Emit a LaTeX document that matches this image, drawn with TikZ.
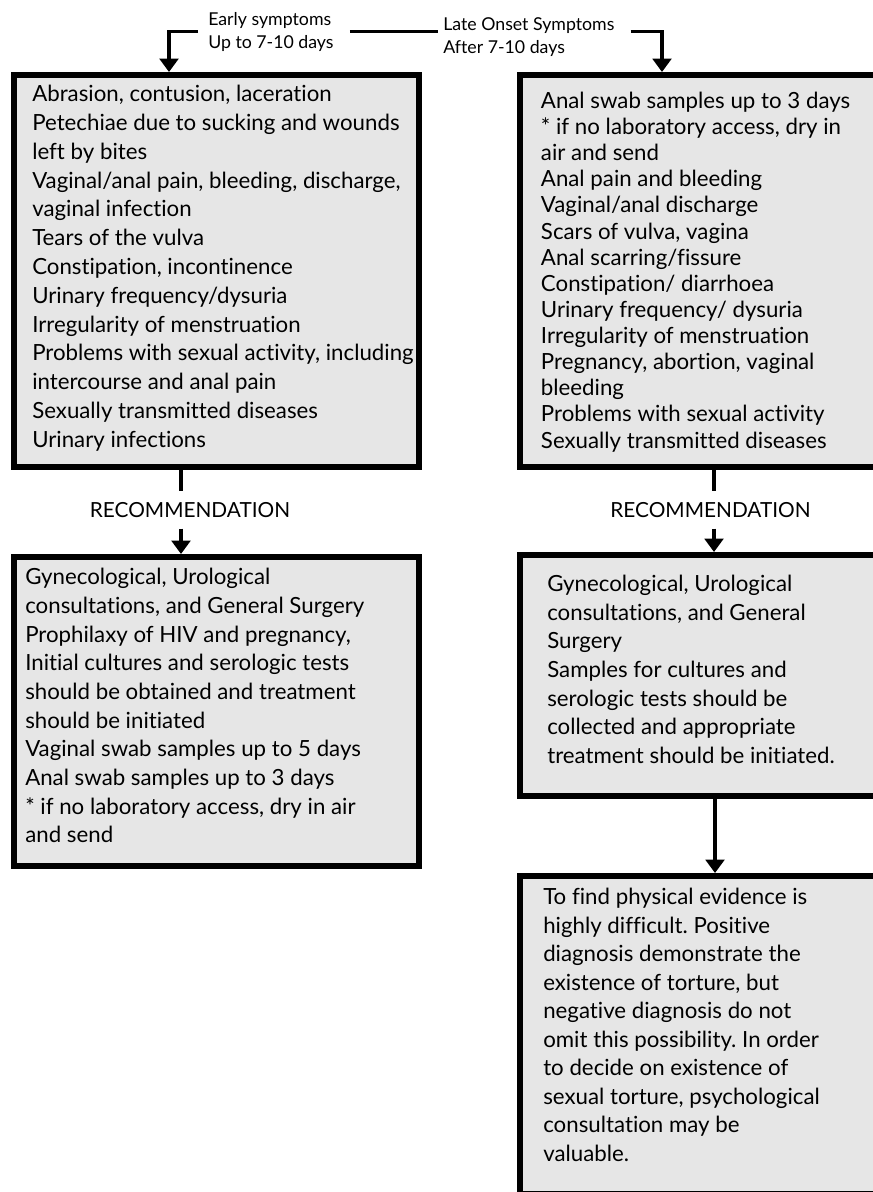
\documentclass[tikz,border=0pt]{standalone}
\usepackage{fontspec}
\setmainfont{Lato}[Ligatures=NoCommon]
\usetikzlibrary{arrows.meta,calc}
\definecolor{boxfill}{HTML}{E6E6E6}
\def\pxu{0.75pt}
\frenchspacing
\begin{document}
\begin{tikzpicture}[x=0.75pt,y=-0.75pt,
  panel/.style={draw=black, line width=4.35pt, fill=boxfill, anchor=north west,
    inner sep=0pt, minimum width=405.2*\pxu},
  bodytext/.style={anchor=north west, inner sep=0pt, align=left,
    font=\fontsize{16.7}{#1}\selectfont, execute at begin node={\rule{0pt}{15pt}}},
  bodytext/.default=21.6,
  headlabel/.style={anchor=north west, inner sep=0pt, align=left,
    font=\fontsize{13.3}{17.5}\selectfont, execute at begin node={\rule{0pt}{12pt}}},
  reclabel/.style={anchor=base, inner xsep=0pt, inner ysep=8.6pt,
    text height=10.5pt, text depth=0pt, font=\fontsize{15.6}{18}\selectfont},
  conn/.style={line width=2.3pt},
  arr/.style={conn, -{Triangle[width=14pt,length=10pt]}}
]
\useasboundingbox (0,0) rectangle (873,1192);
\clip (0,0) rectangle (873,1192);

% ---- boxes ----
\node[panel, minimum height=392.2*\pxu] (early) at (11,72) {};
\node[panel, minimum height=392.2*\pxu] (late) at (517,72) {};
\node[panel, minimum height=309.2*\pxu] (recLeft) at (11,554) {};
\node[panel, minimum height=241.2*\pxu] (recRight) at (517,552) {};
\node[panel, minimum height=318.2*\pxu] (final) at (517,873) {};

% ---- box texts ----
\node[bodytext=21.6] (earlyText) at (32,85) {Abrasion, contusion, laceration\\
Petechiae due to sucking and wounds\\
left by bites\\
Vaginal/anal pain, bleeding, discharge,\\
vaginal infection\\
Tears of the vulva\\
Constipation, incontinence\\
Urinary frequency/dysuria\\
Irregularity of menstruation\\
Problems with sexual activity, including\\
intercourse and anal pain\\
Sexually transmitted diseases\\
Urinary infections};

\node[bodytext=19.6] (lateText) at (540.7,91.7) {Anal swab samples up to 3 days\\
* if no laboratory access, dry in\\
air and send\\
Anal pain and bleeding\\
Vaginal/anal discharge\\
Scars of vulva, vagina\\
Anal scarring/fissure\\
Constipation/ diarrhoea\\
Urinary frequency/ dysuria\\
Irregularity of menstruation\\
Pregnancy, abortion, vaginal\\
bleeding\\
Problems with sexual activity\\
Sexually transmitted diseases};

\node[bodytext=21.5] (recLeftText) at (25,568.3) {Gynecological, Urological\\
consultations, and General Surgery\\
Prophilaxy of HIV and pregnancy,\\
Initial cultures and serologic tests\\
should be obtained and treatment\\
should be initiated\\
Vaginal swab samples up to 5 days\\
Anal swab samples up to 3 days\\
* if no laboratory access, dry in air\\
and send};

\node[bodytext=21.45] (recRightText) at (547,575) {Gynecological, Urological\\
consultations, and General\\
Surgery\\
Samples for cultures and\\
serologic tests should be\\
collected and appropriate\\
treatment should be initiated.};

\node[bodytext=21.4] (finalText) at (543,888) {To find physical evidence is\\
highly difficult. Positive\\
diagnosis demonstrate the\\
existence of torture, but\\
negative diagnosis do not\\
omit this possibility. In order\\
to decide on existence of\\
sexual torture, psychological\\
consultation may be\\
valuable.};

% ---- top labels ----
\node[headlabel] (earlyLbl) at (208,12.3) {Early symptoms\\Up to 7-10 days};
\node[headlabel] (lateLbl) at (443,17.3) {Late Onset Symptoms\\After 7-10 days};

% ---- recommendation labels ----
\node[reclabel] (recLblL) at (190,517) {RECOMMENDATION};
\node[reclabel] (recLblR) at (710.5,517) {RECOMMENDATION};

% ---- connection points ----
\coordinate (topline) at (0,31.7);
\coordinate (earlyIn) at ($(early.north west)+(158,0)$);
\coordinate (lateIn) at ($(late.north west)+(145,0)$);
\coordinate (earlyOut) at ($(early.south west)+(170,0)$);
\coordinate (recLeftIn) at ($(recLeft.north west)+(170,0)$);
\coordinate (lateOut) at ($(late.south west)+(197,0)$);
\coordinate (recRightIn) at ($(recRight.north west)+(197,0)$);
\coordinate (recRightOut) at ($(recRight.south west)+(198,0)$);
\coordinate (finalIn) at ($(final.north west)+(198,0)$);

% ---- connectors ----
\draw[arr] ($(earlyLbl.west |- topline)+(-10,0)$) -| (earlyIn);
\draw[conn] ($(earlyLbl.east |- topline)+(16,0)$) -- ($(lateLbl.west |- topline)+(-5,0)$);
\draw[arr] ($(lateLbl.east |- topline)+(16,0)$) -| (lateIn);

\draw[conn] (earlyOut) -- (earlyOut |- recLblL.north);
\draw[arr] (earlyOut |- recLblL.south) -- (recLeftIn);
\draw[conn] (lateOut) -- (lateOut |- recLblR.north);
\draw[arr] (lateOut |- recLblR.south) -- (recRightIn);
\draw[arr] (recRightOut) -- (finalIn);
\end{tikzpicture}
\end{document}
